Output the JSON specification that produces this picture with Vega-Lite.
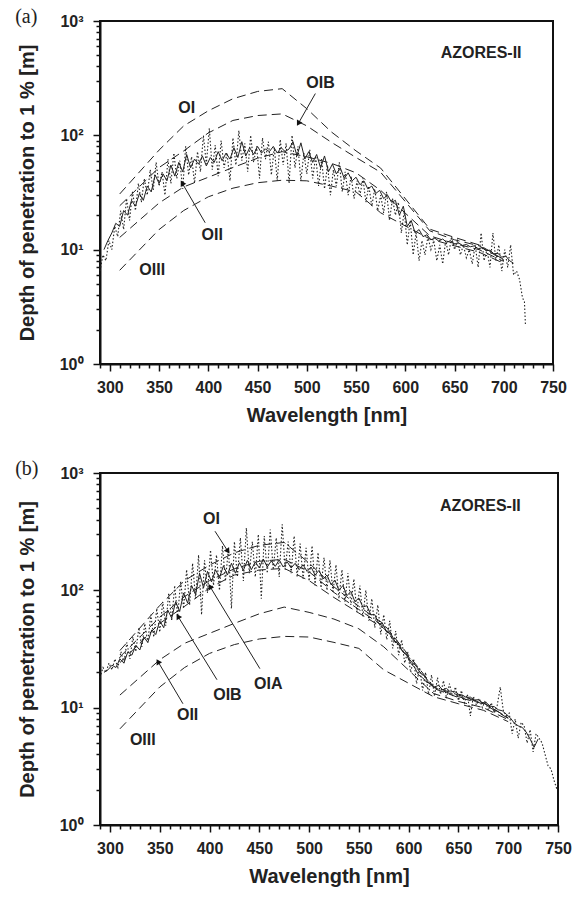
{
"$schema": "https://vega.github.io/schema/vega-lite/v6.json",
"background": "white",
"padding": {"left": 14, "top": 6, "right": 5, "bottom": 5},
"spacing": 32,
"config": {
 "view": {"stroke": "#111", "strokeWidth": 2},
 "axis": {"domainColor": "#111", "domainWidth": 2, "tickColor": "#111", "tickWidth": 1.5, "grid": false,
  "labelFont": "Liberation Sans", "labelFontWeight": "bold", "labelFontSize": 16, "labelColor": "#222",
  "titleFont": "Liberation Sans", "titleFontWeight": "bold", "titleFontSize": 20, "titleColor": "#222"},
 "text": {"font": "Liberation Sans", "fontWeight": "bold", "fontSize": 16, "color": "#222"},
 "title": {"font": "Liberation Serif", "fontWeight": "normal", "fontSize": 20, "color": "#222", "anchor": "start", "frame": "bounds"}
},
"datasets": {
 "dash": [
  {"s":"OI","x":310,"y":30.7},{"s":"OI","x":350,"y":74.3},{"s":"OI","x":375,"y":121},{"s":"OI","x":400,"y":164},{"s":"OI","x":425,"y":209},{"s":"OI","x":450,"y":242},{"s":"OI","x":475,"y":256},{"s":"OI","x":500,"y":171},{"s":"OI","x":525,"y":107},{"s":"OI","x":550,"y":73.1},{"s":"OI","x":575,"y":51.7},{"s":"OI","x":625,"y":15.1},{"s":"OI","x":650,"y":12.8},{"s":"OI","x":675,"y":11.0},{"s":"OI","x":700,"y":8.2},
  {"s":"OIA","x":310,"y":27.1},{"s":"OIA","x":350,"y":59.0},{"s":"OIA","x":375,"y":88.6},{"s":"OIA","x":400,"y":121},{"s":"OIA","x":425,"y":153},{"s":"OIA","x":450,"y":177},{"s":"OIA","x":475,"y":184},{"s":"OIA","x":500,"y":144},{"s":"OIA","x":525,"y":95.9},{"s":"OIA","x":550,"y":68.7},{"s":"OIA","x":575,"y":49.0},{"s":"OIA","x":625,"y":14.9},{"s":"OIA","x":650,"y":12.4},{"s":"OIA","x":675,"y":11.0},{"s":"OIA","x":700,"y":8.2},
  {"s":"OIB","x":310,"y":24.2},{"s":"OIB","x":350,"y":52.3},{"s":"OIB","x":375,"y":73.1},{"s":"OIB","x":400,"y":105},{"s":"OIB","x":425,"y":135},{"s":"OIB","x":450,"y":149},{"s":"OIB","x":475,"y":154},{"s":"OIB","x":500,"y":121},{"s":"OIB","x":525,"y":86.9},{"s":"OIB","x":550,"y":64.0},{"s":"OIB","x":575,"y":47.5},{"s":"OIB","x":625,"y":14.6},{"s":"OIB","x":650,"y":12.2},{"s":"OIB","x":675,"y":10.8},{"s":"OIB","x":700,"y":8.1},
  {"s":"OII","x":310,"y":12.8},{"s":"OII","x":350,"y":25.6},{"s":"OII","x":375,"y":35.4},{"s":"OII","x":400,"y":43},{"s":"OII","x":425,"y":52.3},{"s":"OII","x":450,"y":63.1},{"s":"OII","x":475,"y":72},{"s":"OII","x":500,"y":64.9},{"s":"OII","x":525,"y":56.9},{"s":"OII","x":550,"y":47},{"s":"OII","x":575,"y":33},{"s":"OII","x":625,"y":13.2},{"s":"OII","x":650,"y":11.3},{"s":"OII","x":675,"y":10.0},{"s":"OII","x":700,"y":7.9},
  {"s":"OIII","x":310,"y":6.6},{"s":"OIII","x":350,"y":15},{"s":"OIII","x":375,"y":22},{"s":"OIII","x":400,"y":29},{"s":"OIII","x":425,"y":34.5},{"s":"OIII","x":450,"y":38.5},{"s":"OIII","x":475,"y":40.5},{"s":"OIII","x":500,"y":40},{"s":"OIII","x":525,"y":36},{"s":"OIII","x":550,"y":32},{"s":"OIII","x":575,"y":21},{"s":"OIII","x":625,"y":12.4},{"s":"OIII","x":650,"y":10.8},{"s":"OIII","x":675,"y":9.5},{"s":"OIII","x":700,"y":7.6}
 ],
 "a_sol": [
  {"x":294,"y":10},{"x":298,"y":12},{"x":302,"y":14},{"x":306,"y":17},{"x":310,"y":16},{"x":314,"y":22},{"x":318,"y":20},{"x":322,"y":27},{"x":326,"y":24},{"x":330,"y":31},{"x":334,"y":27},{"x":338,"y":36},{"x":342,"y":32},{"x":346,"y":45},{"x":350,"y":38},{"x":354,"y":46},{"x":358,"y":40},{"x":362,"y":55},{"x":366,"y":44},{"x":370,"y":58},{"x":374,"y":48},{"x":378,"y":68},{"x":382,"y":52},{"x":386,"y":62},{"x":390,"y":56},{"x":394,"y":66},{"x":398,"y":54},{"x":402,"y":64},{"x":406,"y":58},{"x":410,"y":72},{"x":414,"y":60},{"x":418,"y":70},{"x":422,"y":62},{"x":426,"y":78},{"x":430,"y":64},{"x":434,"y":88},{"x":438,"y":66},{"x":442,"y":78},{"x":446,"y":68},{"x":450,"y":80},{"x":454,"y":70},{"x":458,"y":76},{"x":462,"y":72},{"x":466,"y":80},{"x":470,"y":70},{"x":474,"y":78},{"x":478,"y":72},{"x":482,"y":76},{"x":486,"y":88},{"x":490,"y":66},{"x":494,"y":86},{"x":498,"y":62},{"x":502,"y":72},{"x":506,"y":58},{"x":510,"y":68},{"x":514,"y":52},{"x":518,"y":66},{"x":522,"y":48},{"x":526,"y":56},{"x":530,"y":46},{"x":534,"y":52},{"x":538,"y":42},{"x":542,"y":47},{"x":546,"y":40},{"x":550,"y":43},{"x":554,"y":37},{"x":558,"y":40},{"x":562,"y":34},{"x":566,"y":36},{"x":570,"y":31},{"x":574,"y":33},{"x":578,"y":28},{"x":582,"y":30},{"x":586,"y":26},{"x":590,"y":27},{"x":594,"y":20},{"x":598,"y":24},{"x":602,"y":16},{"x":606,"y":18},{"x":610,"y":14},{"x":614,"y":15},{"x":618,"y":13},{"x":622,"y":13.5},{"x":626,"y":12.2},{"x":630,"y":12.6},{"x":634,"y":11.9},{"x":638,"y":12.4},{"x":642,"y":11.6},{"x":646,"y":12},{"x":650,"y":11.2},{"x":654,"y":11.5},{"x":658,"y":10.9},{"x":662,"y":11.1},{"x":666,"y":10.6},{"x":670,"y":10.8},{"x":674,"y":10.2},{"x":678,"y":10.4},{"x":682,"y":9.8},{"x":686,"y":9.9},{"x":690,"y":9.2},{"x":694,"y":9.3},{"x":698,"y":8.6},{"x":702,"y":8.8},{"x":706,"y":8},{"x":710,"y":7.6}
 ],
 "a_dot": [
  {"x":290,"y":6.5},{"x":293,"y":9},{"x":296,"y":8},{"x":299,"y":12},{"x":302,"y":10},{"x":305,"y":16},{"x":308,"y":13},{"x":311,"y":22},{"x":314,"y":15},{"x":317,"y":28},{"x":320,"y":18},{"x":323,"y":32},{"x":326,"y":22},{"x":329,"y":38},{"x":332,"y":26},{"x":335,"y":42},{"x":338,"y":30},{"x":341,"y":50},{"x":344,"y":33},{"x":347,"y":58},{"x":350,"y":36},{"x":353,"y":48},{"x":356,"y":30},{"x":359,"y":62},{"x":362,"y":38},{"x":365,"y":70},{"x":368,"y":42},{"x":371,"y":60},{"x":374,"y":34},{"x":377,"y":80},{"x":380,"y":45},{"x":383,"y":65},{"x":386,"y":38},{"x":389,"y":72},{"x":392,"y":48},{"x":395,"y":100},{"x":398,"y":56},{"x":401,"y":115},{"x":404,"y":50},{"x":407,"y":82},{"x":410,"y":44},{"x":413,"y":90},{"x":416,"y":52},{"x":419,"y":70},{"x":422,"y":40},{"x":425,"y":95},{"x":428,"y":55},{"x":431,"y":110},{"x":434,"y":60},{"x":437,"y":85},{"x":440,"y":48},{"x":443,"y":100},{"x":446,"y":58},{"x":449,"y":80},{"x":452,"y":42},{"x":455,"y":95},{"x":458,"y":62},{"x":461,"y":88},{"x":464,"y":45},{"x":467,"y":78},{"x":470,"y":40},{"x":473,"y":92},{"x":476,"y":55},{"x":479,"y":85},{"x":482,"y":38},{"x":485,"y":100},{"x":488,"y":52},{"x":491,"y":80},{"x":494,"y":40},{"x":497,"y":70},{"x":500,"y":46},{"x":503,"y":75},{"x":506,"y":42},{"x":509,"y":66},{"x":512,"y":36},{"x":515,"y":62},{"x":518,"y":34},{"x":521,"y":55},{"x":524,"y":30},{"x":527,"y":50},{"x":530,"y":36},{"x":533,"y":58},{"x":536,"y":32},{"x":539,"y":48},{"x":542,"y":30},{"x":545,"y":44},{"x":548,"y":28},{"x":551,"y":40},{"x":554,"y":30},{"x":557,"y":42},{"x":560,"y":26},{"x":563,"y":36},{"x":566,"y":24},{"x":569,"y":34},{"x":572,"y":22},{"x":575,"y":30},{"x":578,"y":21},{"x":581,"y":32},{"x":584,"y":18},{"x":587,"y":28},{"x":590,"y":20},{"x":593,"y":26},{"x":596,"y":14},{"x":599,"y":22},{"x":602,"y":11},{"x":605,"y":18},{"x":608,"y":9},{"x":611,"y":14},{"x":614,"y":8},{"x":617,"y":12},{"x":620,"y":9},{"x":623,"y":13},{"x":626,"y":10},{"x":629,"y":12},{"x":632,"y":8},{"x":635,"y":11},{"x":638,"y":7.5},{"x":641,"y":12},{"x":644,"y":9},{"x":647,"y":13},{"x":650,"y":10},{"x":653,"y":12},{"x":656,"y":9},{"x":659,"y":11},{"x":662,"y":8.5},{"x":665,"y":10},{"x":668,"y":7.5},{"x":671,"y":11},{"x":674,"y":7},{"x":677,"y":14},{"x":680,"y":8},{"x":683,"y":10},{"x":686,"y":7},{"x":689,"y":14},{"x":692,"y":8},{"x":695,"y":11},{"x":698,"y":6.5},{"x":701,"y":10},{"x":704,"y":7},{"x":707,"y":11},{"x":710,"y":6},{"x":713,"y":6.5},{"x":716,"y":5.5},{"x":719,"y":3.8},{"x":721,"y":3.5},{"x":722,"y":2.2}
 ],
 "b_sol": [
  {"x":294,"y":20},{"x":298,"y":21},{"x":302,"y":23},{"x":306,"y":22},{"x":310,"y":26},{"x":314,"y":24},{"x":318,"y":30},{"x":322,"y":28},{"x":326,"y":34},{"x":330,"y":31},{"x":334,"y":40},{"x":338,"y":36},{"x":342,"y":46},{"x":346,"y":42},{"x":350,"y":55},{"x":354,"y":48},{"x":358,"y":68},{"x":362,"y":58},{"x":366,"y":80},{"x":370,"y":66},{"x":374,"y":95},{"x":378,"y":78},{"x":382,"y":110},{"x":386,"y":92},{"x":390,"y":140},{"x":394,"y":105},{"x":398,"y":145},{"x":402,"y":118},{"x":406,"y":150},{"x":410,"y":128},{"x":414,"y":162},{"x":418,"y":135},{"x":422,"y":170},{"x":426,"y":140},{"x":430,"y":172},{"x":434,"y":148},{"x":438,"y":180},{"x":442,"y":150},{"x":446,"y":175},{"x":450,"y":155},{"x":454,"y":185},{"x":458,"y":158},{"x":462,"y":178},{"x":466,"y":160},{"x":470,"y":182},{"x":474,"y":158},{"x":478,"y":175},{"x":482,"y":155},{"x":486,"y":170},{"x":490,"y":150},{"x":494,"y":165},{"x":498,"y":145},{"x":502,"y":158},{"x":506,"y":135},{"x":510,"y":148},{"x":514,"y":125},{"x":518,"y":135},{"x":522,"y":112},{"x":526,"y":122},{"x":530,"y":100},{"x":534,"y":110},{"x":538,"y":90},{"x":542,"y":98},{"x":546,"y":80},{"x":550,"y":86},{"x":554,"y":72},{"x":558,"y":74},{"x":562,"y":62},{"x":566,"y":62},{"x":570,"y":52},{"x":574,"y":52},{"x":578,"y":44},{"x":582,"y":43},{"x":586,"y":37},{"x":590,"y":35},{"x":594,"y":30},{"x":598,"y":28},{"x":602,"y":24},{"x":606,"y":22},{"x":610,"y":19},{"x":614,"y":18},{"x":618,"y":16.5},{"x":622,"y":16},{"x":626,"y":15},{"x":630,"y":15.5},{"x":634,"y":14.2},{"x":638,"y":14.6},{"x":642,"y":13.6},{"x":646,"y":13.8},{"x":650,"y":13},{"x":654,"y":12.8},{"x":658,"y":12.2},{"x":662,"y":12.3},{"x":666,"y":11.6},{"x":670,"y":11.7},{"x":674,"y":11},{"x":678,"y":11},{"x":682,"y":10.3},{"x":686,"y":10.2},{"x":690,"y":9.6},{"x":694,"y":9.4},{"x":698,"y":8.8},{"x":702,"y":8.2},{"x":706,"y":7.4},{"x":710,"y":7},{"x":714,"y":6.8},{"x":718,"y":6.2},{"x":722,"y":5.4},{"x":726,"y":4.6},{"x":730,"y":5.4}
 ],
 "b_dot": [
  {"x":290,"y":18},{"x":293,"y":22},{"x":296,"y":20},{"x":299,"y":24},{"x":302,"y":21},{"x":305,"y":26},{"x":308,"y":22},{"x":311,"y":30},{"x":314,"y":24},{"x":317,"y":36},{"x":320,"y":26},{"x":323,"y":40},{"x":326,"y":30},{"x":329,"y":48},{"x":332,"y":33},{"x":335,"y":52},{"x":338,"y":36},{"x":341,"y":62},{"x":344,"y":40},{"x":347,"y":70},{"x":350,"y":44},{"x":353,"y":80},{"x":356,"y":50},{"x":359,"y":95},{"x":362,"y":55},{"x":365,"y":110},{"x":368,"y":60},{"x":371,"y":120},{"x":374,"y":70},{"x":377,"y":150},{"x":380,"y":75},{"x":383,"y":170},{"x":386,"y":85},{"x":389,"y":200},{"x":392,"y":62},{"x":395,"y":180},{"x":398,"y":95},{"x":401,"y":220},{"x":404,"y":110},{"x":407,"y":200},{"x":410,"y":100},{"x":413,"y":240},{"x":416,"y":120},{"x":419,"y":230},{"x":422,"y":70},{"x":425,"y":260},{"x":428,"y":130},{"x":431,"y":280},{"x":434,"y":120},{"x":437,"y":340},{"x":440,"y":140},{"x":443,"y":260},{"x":446,"y":130},{"x":449,"y":300},{"x":452,"y":85},{"x":455,"y":290},{"x":458,"y":140},{"x":461,"y":330},{"x":464,"y":150},{"x":467,"y":280},{"x":470,"y":130},{"x":473,"y":365},{"x":476,"y":150},{"x":479,"y":260},{"x":482,"y":140},{"x":485,"y":290},{"x":488,"y":130},{"x":491,"y":250},{"x":494,"y":125},{"x":497,"y":230},{"x":500,"y":120},{"x":503,"y":240},{"x":506,"y":110},{"x":509,"y":210},{"x":512,"y":105},{"x":515,"y":190},{"x":518,"y":100},{"x":521,"y":180},{"x":524,"y":95},{"x":527,"y":165},{"x":530,"y":85},{"x":533,"y":150},{"x":536,"y":80},{"x":539,"y":140},{"x":542,"y":75},{"x":545,"y":125},{"x":548,"y":65},{"x":551,"y":110},{"x":554,"y":60},{"x":557,"y":100},{"x":560,"y":55},{"x":563,"y":85},{"x":566,"y":48},{"x":569,"y":75},{"x":572,"y":42},{"x":575,"y":62},{"x":578,"y":38},{"x":581,"y":55},{"x":584,"y":32},{"x":587,"y":45},{"x":590,"y":28},{"x":593,"y":38},{"x":596,"y":24},{"x":599,"y":30},{"x":602,"y":20},{"x":605,"y":26},{"x":608,"y":16},{"x":611,"y":22},{"x":614,"y":14},{"x":617,"y":20},{"x":620,"y":13},{"x":623,"y":19},{"x":626,"y":12.5},{"x":629,"y":18},{"x":632,"y":13},{"x":635,"y":17},{"x":638,"y":12},{"x":641,"y":16},{"x":644,"y":12.5},{"x":647,"y":15},{"x":650,"y":11.5},{"x":653,"y":14},{"x":656,"y":11},{"x":659,"y":13},{"x":662,"y":8.5},{"x":665,"y":12.5},{"x":668,"y":10.5},{"x":671,"y":12},{"x":674,"y":10},{"x":677,"y":11.5},{"x":680,"y":9.5},{"x":683,"y":11},{"x":686,"y":9},{"x":689,"y":10.5},{"x":692,"y":15},{"x":695,"y":9.5},{"x":698,"y":8.5},{"x":701,"y":9},{"x":704,"y":6},{"x":707,"y":8},{"x":710,"y":5.5},{"x":713,"y":7.5},{"x":716,"y":7},{"x":719,"y":5},{"x":722,"y":6.5},{"x":725,"y":4.2},{"x":728,"y":6},{"x":731,"y":5.5},{"x":734,"y":5},{"x":737,"y":4},{"x":740,"y":3.2},{"x":743,"y":3},{"x":746,"y":2.4},{"x":749,"y":2},{"x":750,"y":2.5}
 ],
 "a_txt": [
  {"t":"AZORES-II","x":677,"y":527},{"t":"OI","x":378,"y":175},{"t":"OIB","x":514,"y":289},{"t":"OII","x":404,"y":13.5},{"t":"OIII","x":343,"y":6.7}
 ],
 "b_txt": [
  {"t":"AZORES-II","x":672,"y":522},{"t":"OI","x":402,"y":404},{"t":"OIA","x":459,"y":16},{"t":"OIB","x":418,"y":12.9},{"t":"OII","x":378,"y":8.7},{"t":"OIII","x":333,"y":5.3}
 ],
 "a_arr": [
  {"t":"OIB","x":508.7,"y":232,"x2":491.4,"y2":127},{"t":"OII","x":396.8,"y":17.2,"x2":373.4,"y2":38.3}
 ],
 "b_arr": [
  {"t":"OI","x":405.5,"y":319,"x2":418.5,"y2":215},{"t":"OIA","x":450.6,"y":21.5,"x2":400.4,"y2":108},{"t":"OIB","x":407.5,"y":17.3,"x2":368.3,"y2":60},{"t":"OII","x":373.3,"y":10.8,"x2":348.2,"y2":24.7}
 ]
},
"vconcat": [
 {
  "title": {"text": "(a)", "dx": -2, "offset": -14},
  "width": 453, "height": 343,
  "encoding": {
   "x": {"field": "x", "type": "quantitative", "title": "Wavelength [nm]",
    "scale": {"domain": [290, 750], "nice": false, "zero": false},
    "axis": {"values": [290,300,310,320,330,340,350,360,370,380,390,400,410,420,430,440,450,460,470,480,490,500,510,520,530,540,550,560,570,580,590,600,610,620,630,640,650,660,670,680,690,700,710,720,730,740,750],
     "labelExpr": "datum.value % 50 === 0 ? datum.label : ''", "labelOverlap": false, "labelFlush": false,
     "tickSize": {"condition": {"test": "datum.value % 50 === 0", "value": 7}, "value": 4},
     "labelPadding": 8, "titlePadding": 10}},
   "y": {"field": "y", "type": "quantitative", "title": "Depth of penetration to 1 % [m]",
    "scale": {"type": "log", "domain": [1, 1000], "nice": false},
    "axis": {"values": [1,2,3,4,5,6,7,8,9,10,20,30,40,50,60,70,80,90,100,200,300,400,500,600,700,800,900,1000],
     "labelExpr": "datum.value === 1 ? '10⁰' : datum.value === 10 ? '10¹' : datum.value === 100 ? '10²' : datum.value === 1000 ? '10³' : ''",
     "labelOverlap": false, "labelFlush": false,
     "tickSize": {"condition": {"test": "datum.value === 1 || datum.value === 10 || datum.value === 100 || datum.value === 1000", "value": 7}, "value": 4},
     "labelPadding": 10, "titlePadding": 22}}
  },
  "layer": [
   {"data": {"name": "a_dot"}, "mark": {"type": "line", "color": "#222", "strokeWidth": 1.1, "strokeDash": [1.5, 2]}},
   {"data": {"name": "a_sol"}, "mark": {"type": "line", "color": "#222", "strokeWidth": 1}},
   {"data": {"name": "dash"}, "transform": [{"filter": "datum.s !== 'OIA'"}], "mark": {"type": "line", "color": "#222", "strokeWidth": 1, "strokeDash": [9, 5]}, "encoding": {"detail": {"field": "s"}}},
   {"data": {"name": "a_arr"}, "mark": {"type": "rule", "color": "#222", "strokeWidth": 1}, "encoding": {"x2": {"field": "x2"}, "y2": {"field": "y2"}}},
   {"data": {"name": "a_arr"}, "transform": [{"filter": "datum.t === 'OIB'"}], "mark": {"type": "point", "shape": "triangle-up", "filled": true, "color": "#111", "size": 40, "opacity": 1, "angle": 210},
    "encoding": {"x": {"field": "x2", "type": "quantitative", "title": "Wavelength [nm]"}, "y": {"field": "y2", "type": "quantitative", "title": "Depth of penetration to 1 % [m]"}}},
   {"data": {"name": "a_arr"}, "transform": [{"filter": "datum.t === 'OII'"}], "mark": {"type": "point", "shape": "triangle-up", "filled": true, "color": "#111", "size": 40, "opacity": 1, "angle": 330},
    "encoding": {"x": {"field": "x2", "type": "quantitative", "title": "Wavelength [nm]"}, "y": {"field": "y2", "type": "quantitative", "title": "Depth of penetration to 1 % [m]"}}},
   {"data": {"name": "a_txt"}, "mark": {"type": "text", "align": "center", "baseline": "middle"}, "encoding": {"text": {"field": "t"}}}
  ]
 },
 {
  "title": {"text": "(b)", "dx": -2, "offset": -14},
  "width": 458, "height": 352,
  "encoding": {
   "x": {"field": "x", "type": "quantitative", "title": "Wavelength [nm]",
    "scale": {"domain": [290, 750], "nice": false, "zero": false},
    "axis": {"values": [290,300,310,320,330,340,350,360,370,380,390,400,410,420,430,440,450,460,470,480,490,500,510,520,530,540,550,560,570,580,590,600,610,620,630,640,650,660,670,680,690,700,710,720,730,740,750],
     "labelExpr": "datum.value % 50 === 0 ? datum.label : ''", "labelOverlap": false, "labelFlush": false,
     "tickSize": {"condition": {"test": "datum.value % 50 === 0", "value": 7}, "value": 4},
     "labelPadding": 8, "titlePadding": 10}},
   "y": {"field": "y", "type": "quantitative", "title": "Depth of penetration to 1 % [m]",
    "scale": {"type": "log", "domain": [1, 1000], "nice": false},
    "axis": {"values": [1,2,3,4,5,6,7,8,9,10,20,30,40,50,60,70,80,90,100,200,300,400,500,600,700,800,900,1000],
     "labelExpr": "datum.value === 1 ? '10⁰' : datum.value === 10 ? '10¹' : datum.value === 100 ? '10²' : datum.value === 1000 ? '10³' : ''",
     "labelOverlap": false, "labelFlush": false,
     "tickSize": {"condition": {"test": "datum.value === 1 || datum.value === 10 || datum.value === 100 || datum.value === 1000", "value": 7}, "value": 4},
     "labelPadding": 10, "titlePadding": 22}}
  },
  "layer": [
   {"data": {"name": "b_dot"}, "mark": {"type": "line", "color": "#222", "strokeWidth": 1.1, "strokeDash": [1.5, 2]}},
   {"data": {"name": "b_sol"}, "mark": {"type": "line", "color": "#222", "strokeWidth": 1}},
   {"data": {"name": "dash"}, "mark": {"type": "line", "color": "#222", "strokeWidth": 1, "strokeDash": [9, 5]}, "encoding": {"detail": {"field": "s"}}},
   {"data": {"name": "b_arr"}, "mark": {"type": "rule", "color": "#222", "strokeWidth": 1}, "encoding": {"x2": {"field": "x2"}, "y2": {"field": "y2"}}},
   {"data": {"name": "b_arr"}, "transform": [{"filter": "datum.t === 'OI'"}], "mark": {"type": "point", "shape": "triangle-up", "filled": true, "color": "#111", "size": 40, "opacity": 1, "angle": 147},
    "encoding": {"x": {"field": "x2", "type": "quantitative", "title": "Wavelength [nm]"}, "y": {"field": "y2", "type": "quantitative", "title": "Depth of penetration to 1 % [m]"}}},
   {"data": {"name": "b_arr"}, "transform": [{"filter": "datum.t !== 'OI'"}], "mark": {"type": "point", "shape": "triangle-up", "filled": true, "color": "#111", "size": 40, "opacity": 1, "angle": 329},
    "encoding": {"x": {"field": "x2", "type": "quantitative", "title": "Wavelength [nm]"}, "y": {"field": "y2", "type": "quantitative", "title": "Depth of penetration to 1 % [m]"}}},
   {"data": {"name": "b_txt"}, "mark": {"type": "text", "align": "center", "baseline": "middle"}, "encoding": {"text": {"field": "t"}}}
  ]
 }
]
}
